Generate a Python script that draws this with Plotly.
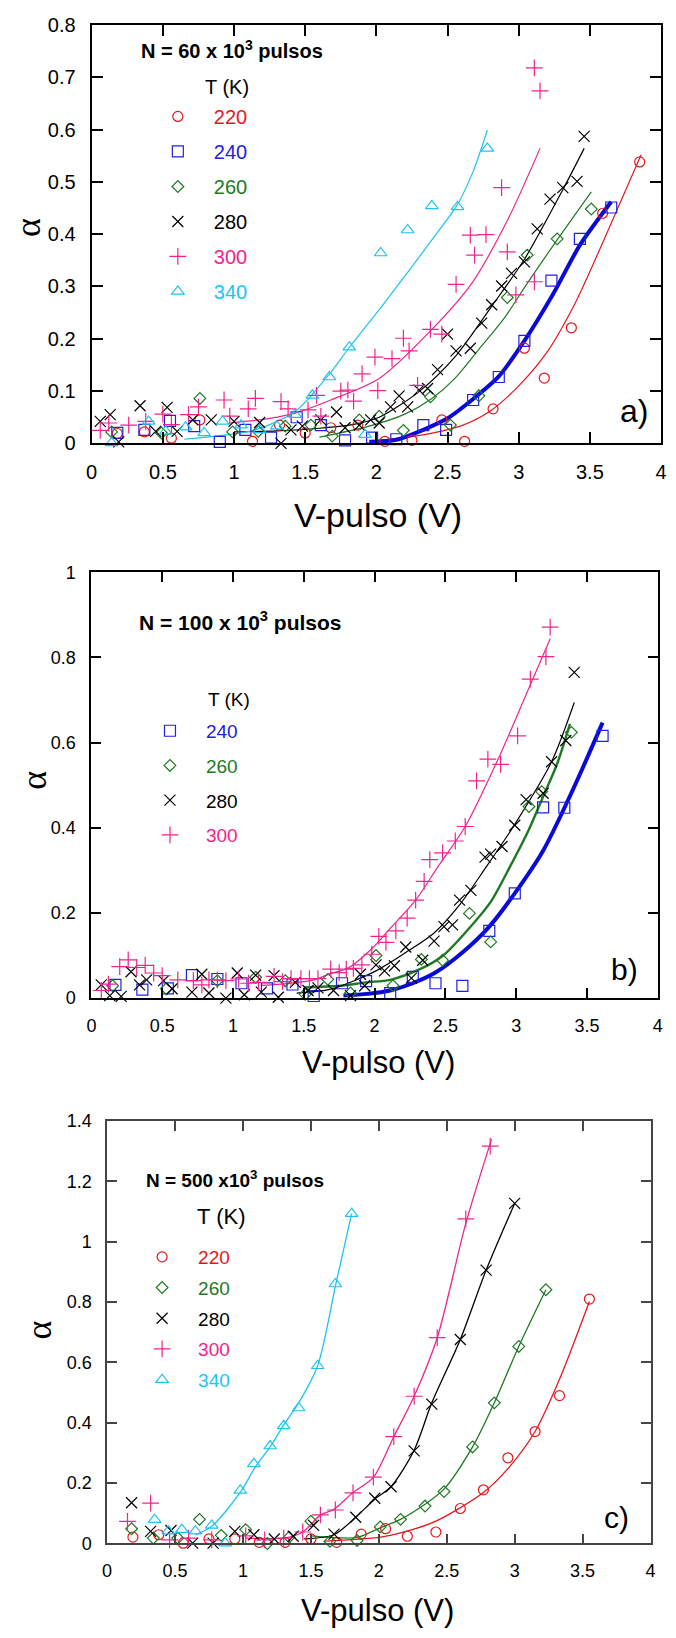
import plotly.graph_objects as go

# Page is 676x1638; the html body has an 8px margin, so the figure is 660x1622
PAGE_W, PAGE_H = 676, 1638
OFF = 8
W, H = PAGE_W - 2 * OFF, PAGE_H - 2 * OFF
FONT = "Liberation Sans, Arial, sans-serif"


def fx(px):
    return (px - OFF) / W


def fy(py):
    return 1 - (py - OFF) / H


# ---------------- Panel a) N = 60 x 10^3 ----------------
a220_x = [0.18, 0.37, 0.56, 0.76, 1.13, 1.32, 1.50, 1.68, 1.87, 2.06, 2.25, 2.46, 2.62, 2.82, 3.04, 3.18, 3.37, 3.59, 3.85]
a220_y = [0.019, 0.022, 0.010, 0.045, 0.004, 0.035, 0.020, 0.030, 0.035, 0.004, 0.006, 0.045, 0.004, 0.066, 0.182, 0.125, 0.221, 0.440, 0.538]
a220_fx = [1.98, 2.2, 2.4, 2.6, 2.8, 3.0, 3.2, 3.4, 3.6, 3.86]
a220_fy = [0.005, 0.011, 0.020, 0.034, 0.062, 0.110, 0.175, 0.270, 0.390, 0.552]

a240_x = [0.18, 0.37, 0.55, 0.72, 0.90, 1.08, 1.26, 1.44, 1.61, 1.78, 1.97, 2.14, 2.33, 2.49, 2.68, 2.86, 3.04, 3.23, 3.43, 3.65]
a240_y = [0.020, 0.026, 0.043, 0.033, 0.003, 0.026, 0.011, 0.050, 0.035, 0.006, 0.011, 0.008, 0.035, 0.026, 0.083, 0.127, 0.196, 0.311, 0.391, 0.451]
a240_fx = [1.95, 2.14, 2.33, 2.50, 2.68, 2.86, 3.04, 3.245, 3.43, 3.65]
a240_fy = [0.003, 0.007, 0.026, 0.048, 0.085, 0.128, 0.196, 0.287, 0.379, 0.462]

a260_x = [0.14, 0.49, 0.76, 0.99, 1.17, 1.36, 1.54, 1.69, 1.88, 2.02, 2.19, 2.38, 2.52, 2.72, 2.92, 3.06, 3.27, 3.51]
a260_y = [0.022, 0.020, 0.086, 0.022, 0.023, 0.033, 0.035, 0.014, 0.045, 0.052, 0.025, 0.089, 0.035, 0.091, 0.279, 0.360, 0.391, 0.448]
a260_fx = [1.60, 1.95, 2.2, 2.39, 2.55, 2.72, 2.9, 3.06, 3.27, 3.51]
a260_fy = [0.012, 0.033, 0.056, 0.086, 0.124, 0.180, 0.240, 0.306, 0.389, 0.481]

a280_x = [0.06, 0.13, 0.19, 0.34, 0.45, 0.53, 0.60, 0.71, 0.84, 1.00, 1.18, 1.33, 1.40, 1.48, 1.61, 1.72, 1.78, 1.88, 1.96, 2.02,
          2.10, 2.16, 2.22, 2.30, 2.36, 2.43, 2.50, 2.56, 2.66, 2.74, 2.81, 2.88, 2.95, 3.04, 3.13, 3.22, 3.31, 3.41, 3.46]
a280_y = [0.042, 0.055, 0.003, 0.072, 0.023, 0.069, 0.023, 0.045, 0.045, 0.042, 0.040, 0.000, 0.026, 0.033, 0.045, 0.060, 0.030, 0.035, 0.045, 0.039,
          0.070, 0.091, 0.070, 0.102, 0.105, 0.141, 0.209, 0.177, 0.182, 0.230, 0.265, 0.301, 0.325, 0.347, 0.410, 0.467, 0.489, 0.501, 0.587]
a280_fx = [1.0, 1.3, 1.6, 1.85, 2.02, 2.3, 2.56, 2.81, 3.04, 3.31, 3.46]
a280_fy = [0.022, 0.024, 0.029, 0.037, 0.050, 0.099, 0.168, 0.262, 0.352, 0.485, 0.564]

a300_x = [0.06, 0.12, 0.26, 0.38, 0.50, 0.56, 0.68, 0.75, 0.93, 0.97, 1.10, 1.15, 1.33, 1.38, 1.52, 1.58, 1.61, 1.75, 1.80, 1.84,
          1.90, 1.99, 2.01, 2.11, 2.19, 2.23, 2.29, 2.38, 2.46, 2.56, 2.66, 2.69, 2.77, 2.88, 2.92, 2.98, 3.11, 3.11, 3.15]
a300_y = [0.025, 0.039, 0.035, 0.042, 0.056, 0.036, 0.055, 0.070, 0.083, 0.052, 0.066, 0.086, 0.080, 0.066, 0.064, 0.092, 0.052, 0.100, 0.102, 0.081,
          0.133, 0.165, 0.101, 0.162, 0.201, 0.177, 0.111, 0.218, 0.209, 0.304, 0.398, 0.360, 0.399, 0.489, 0.366, 0.284, 0.309, 0.718, 0.674]
a300_fx = [0.97, 1.25, 1.43, 1.68, 2.02, 2.38, 2.67, 2.92, 3.15]
a300_fy = [0.039, 0.048, 0.058, 0.083, 0.124, 0.215, 0.306, 0.426, 0.564]

a340_x = [0.14, 0.40, 0.52, 0.66, 0.79, 0.92, 1.05, 1.18, 1.30, 1.43, 1.55, 1.67, 1.81, 1.92, 2.03, 2.22, 2.39, 2.57, 2.78]
a340_y = [0.001, 0.042, 0.023, 0.031, 0.020, 0.042, 0.035, 0.026, 0.033, 0.055, 0.092, 0.127, 0.184, 0.017, 0.364, 0.408, 0.454, 0.452, 0.564]
a340_fx = [0.65, 0.9, 1.15, 1.43, 1.68, 1.80, 2.03, 2.2, 2.39, 2.57, 2.68, 2.78]
a340_fy = [0.008, 0.015, 0.026, 0.061, 0.136, 0.180, 0.259, 0.320, 0.389, 0.457, 0.520, 0.599]

# ---------------- Panel b) N = 100 x 10^3 ----------------
b240_x = [0.17, 0.36, 0.54, 0.71, 0.89, 1.06, 1.24, 1.42, 1.57, 1.77, 1.94, 2.11, 2.27, 2.43, 2.62, 2.81, 2.99, 3.19, 3.34, 3.61]
b240_y = [0.031, 0.020, 0.023, 0.054, 0.045, 0.035, 0.023, 0.032, 0.005, 0.035, 0.040, 0.012, 0.050, 0.035, 0.029, 0.158, 0.246, 0.448, 0.447, 0.616]
b240_fx = [1.78, 1.95, 2.11, 2.27, 2.43, 2.62, 2.81, 2.99, 3.19, 3.40, 3.61]
b240_fy = [0.006, 0.010, 0.018, 0.035, 0.060, 0.107, 0.168, 0.246, 0.346, 0.489, 0.647]

b260_x = [0.15, 0.53, 0.89, 1.16, 1.37, 1.51, 1.67, 1.83, 2.01, 2.13, 2.33, 2.48, 2.67, 2.82, 3.09, 3.18, 3.39]
b260_y = [0.029, 0.022, 0.041, 0.049, 0.041, 0.009, 0.044, 0.012, 0.100, 0.029, 0.091, 0.089, 0.199, 0.132, 0.450, 0.485, 0.624]
b260_fx = [1.50, 1.76, 1.94, 2.11, 2.32, 2.48, 2.66, 2.82, 2.96, 3.09, 3.19, 3.29, 3.38]
b260_fy = [0.025, 0.029, 0.037, 0.043, 0.068, 0.099, 0.161, 0.226, 0.311, 0.396, 0.473, 0.551, 0.644]

b280_x = [0.07, 0.13, 0.21, 0.28, 0.34, 0.39, 0.51, 0.57, 0.71, 0.78, 0.83, 0.95, 1.03, 1.08, 1.16, 1.20, 1.29, 1.32, 1.44, 1.53,
          1.60, 1.71, 1.83, 1.90, 1.93, 2.01, 2.07, 2.14, 2.22, 2.26, 2.34, 2.42, 2.49, 2.55, 2.60, 2.68, 2.78, 2.82, 2.90, 2.99,
          3.07, 3.19, 3.25, 3.35, 3.41]
b280_y = [0.031, 0.006, 0.004, 0.062, 0.031, 0.043, 0.041, 0.022, 0.014, 0.056, 0.012, 0.000, 0.059, 0.008, 0.054, 0.014, 0.053, 0.002, 0.037, 0.018,
          0.024, 0.018, 0.006, 0.056, 0.029, 0.078, 0.064, 0.076, 0.120, 0.047, 0.089, 0.134, 0.168, 0.172, 0.230, 0.253, 0.331, 0.338, 0.356, 0.406,
          0.466, 0.481, 0.555, 0.605, 0.765]
b280_fx = [1.45, 1.69, 2.01, 2.22, 2.42, 2.60, 2.78, 2.99, 3.25, 3.41]
b280_fy = [0.012, 0.021, 0.064, 0.107, 0.153, 0.219, 0.304, 0.408, 0.555, 0.694]

b300_x = [0.07, 0.12, 0.20, 0.26, 0.32, 0.38, 0.44, 0.50, 0.61, 0.72, 0.78, 0.83, 0.89, 0.95, 1.04, 1.11, 1.18, 1.29, 1.35, 1.41,
          1.48, 1.54, 1.60, 1.69, 1.75, 1.80, 1.85, 1.91, 1.98, 2.03, 2.08, 2.15, 2.23, 2.29, 2.35, 2.39, 2.48, 2.57, 2.64, 2.72,
          2.80, 2.89, 3.01, 3.10, 3.21, 3.24]
b300_y = [0.018, 0.033, 0.074, 0.090, 0.072, 0.077, 0.059, 0.053, 0.043, 0.041, 0.031, 0.043, 0.043, 0.041, 0.045, 0.035, 0.037, 0.051, 0.039, 0.046,
          0.046, 0.046, 0.046, 0.068, 0.060, 0.068, 0.070, 0.078, 0.103, 0.145, 0.131, 0.158, 0.188, 0.230, 0.274, 0.325, 0.341, 0.369, 0.403, 0.510,
          0.561, 0.549, 0.616, 0.749, 0.802, 0.871]
b300_fx = [1.20, 1.34, 1.57, 1.69, 1.81, 1.98, 2.10, 2.29, 2.45, 2.64, 2.89, 3.10, 3.24]
b300_fy = [0.030, 0.033, 0.043, 0.058, 0.070, 0.116, 0.160, 0.230, 0.310, 0.403, 0.574, 0.736, 0.844]

# ---------------- Panel c) N = 500 x 10^3 ----------------
c220_x = [0.19, 0.38, 0.56, 0.75, 0.94, 1.12, 1.31, 1.50, 1.69, 1.87, 2.05, 2.21, 2.42, 2.60, 2.77, 2.95, 3.15, 3.33, 3.55]
c220_y = [0.021, 0.029, 0.001, 0.015, 0.015, 0.004, 0.004, 0.015, 0.004, 0.031, 0.049, 0.024, 0.038, 0.116, 0.178, 0.284, 0.371, 0.490, 0.810]
c220_fx = [1.60, 2.00, 2.20, 2.42, 2.77, 2.96, 3.15, 3.33, 3.55]
c220_fy = [0.008, 0.020, 0.040, 0.074, 0.169, 0.253, 0.371, 0.544, 0.802]

c260_x = [0.18, 0.34, 0.52, 0.68, 0.84, 1.02, 1.18, 1.34, 1.50, 1.64, 1.84, 2.01, 2.16, 2.34, 2.48, 2.69, 2.85, 3.03, 3.23]
c260_y = [0.049, 0.018, 0.018, 0.080, 0.027, 0.046, 0.000, 0.021, 0.074, 0.007, 0.010, 0.055, 0.080, 0.124, 0.172, 0.320, 0.466, 0.653, 0.841]
c260_fx = [1.50, 1.64, 1.84, 2.01, 2.16, 2.34, 2.48, 2.69, 2.85, 3.03, 3.23]
c260_fy = [0.025, 0.020, 0.020, 0.052, 0.080, 0.130, 0.180, 0.320, 0.466, 0.653, 0.841]

c280_x = [0.18, 0.32, 0.47, 0.63, 0.78, 0.94, 1.08, 1.23, 1.37, 1.52, 1.67, 1.83, 1.97, 2.09, 2.26, 2.39, 2.60, 2.79, 3.00]
c280_y = [0.135, 0.040, 0.043, 0.001, 0.001, 0.040, 0.029, 0.015, 0.024, 0.060, 0.031, 0.087, 0.150, 0.188, 0.307, 0.462, 0.676, 0.906, 1.127]
c280_fx = [1.45, 1.67, 1.83, 1.97, 2.09, 2.26, 2.39, 2.60, 2.79, 3.00]
c280_fy = [0.015, 0.029, 0.087, 0.147, 0.188, 0.309, 0.466, 0.676, 0.906, 1.127]

c300_x = [0.15, 0.32, 0.46, 0.60, 0.77, 1.02, 1.16, 1.30, 1.44, 1.57, 1.68, 1.81, 1.96, 2.11, 2.26, 2.43, 2.64, 2.82]
c300_y = [0.073, 0.134, 0.012, 0.018, 0.012, 0.025, 0.012, 0.018, 0.038, 0.095, 0.111, 0.168, 0.220, 0.354, 0.488, 0.682, 1.076, 1.317]
c300_fx = [1.02, 1.30, 1.44, 1.57, 1.67, 1.81, 1.96, 2.11, 2.26, 2.43, 2.64, 2.83]
c300_fy = [0.018, 0.018, 0.038, 0.094, 0.113, 0.169, 0.219, 0.354, 0.488, 0.682, 1.060, 1.340]

c340_x = [0.35, 0.45, 0.55, 0.65, 0.77, 0.87, 0.98, 1.08, 1.20, 1.30, 1.41, 1.55, 1.68, 1.80]
c340_y = [0.079, 0.041, 0.046, 0.041, 0.060, 0.001, 0.176, 0.264, 0.323, 0.390, 0.449, 0.589, 0.860, 1.093]
c340_fx = [0.65, 0.77, 0.98, 1.09, 1.20, 1.30, 1.41, 1.55, 1.684, 1.80]
c340_fy = [0.029, 0.057, 0.169, 0.253, 0.320, 0.393, 0.466, 0.589, 0.860, 1.093]

x_ticks = [0, 0.5, 1, 1.5, 2, 2.5, 3, 3.5, 4]
x_tick_text = ["0", "0.5", "1", "1.5", "2", "2.5", "3", "3.5", "4"]

COL = {"220": "#e8161c", "240": "#2020e6", "260": "#1d7a22", "280": "#000000", "300": "#f2238c", "340": "#1cc4f2"}
LINECOL = {"220": "#e8161c", "240": "#0a0ad8", "260": "#1d7a22", "280": "#000000", "300": "#f2238c", "340": "#1cc4f2"}
SYM = {"220": "circle-open", "240": "square-open", "260": "diamond-open", "280": "x-thin", "300": "cross-thin", "340": "triangle-up-open"}
MSIZE = {"220": 10, "240": 11, "260": 9, "280": 11, "300": 12, "340": 11}

panels = [
    dict(xa="x", ya="y", legend="legend", box=(87, 666, 15, 439), yr=0.8, dy=0.1,
         frame="#000000", fw=2, tl=11, tf=20,
         series=[("220", a220_x, a220_y, a220_fx, a220_fy, 1.2),
                 ("240", a240_x, a240_y, a240_fx, a240_fy, 4),
                 ("260", a260_x, a260_y, a260_fx, a260_fy, 1.2),
                 ("280", a280_x, a280_y, a280_fx, a280_fy, 1.2),
                 ("300", a300_x, a300_y, a300_fx, a300_fy, 1.2),
                 ("340", a340_x, a340_y, a340_fx, a340_fy, 1.2)]),
    dict(xa="x2", ya="y2", legend="legend2", box=(86.7, 662.7, 569.5, 1001), yr=1.0, dy=0.2,
         frame="#000000", fw=2, tl=10, tf=18,
         series=[("240", b240_x, b240_y, b240_fx, b240_fy, 4),
                 ("260", b260_x, b260_y, b260_fx, b260_fy, 2.4),
                 ("280", b280_x, b280_y, b280_fx, b280_fy, 1.2),
                 ("300", b300_x, b300_y, b300_fx, b300_fy, 1.2)]),
    dict(xa="x3", ya="y3", legend="legend3", box=(102.7, 655.3, 1125.5, 1553.5), yr=1.4, dy=0.2,
         frame="#444444", fw=1.5, tl=10, tf=18,
         series=[("220", c220_x, c220_y, c220_fx, c220_fy, 1.3),
                 ("260", c260_x, c260_y, c260_fx, c260_fy, 1.3),
                 ("280", c280_x, c280_y, c280_fx, c280_fy, 1.3),
                 ("300", c300_x, c300_y, c300_fx, c300_fy, 1.3),
                 ("340", c340_x, c340_y, c340_fx, c340_fy, 1.3)]),
]

fig = go.Figure()

for i, p in enumerate(panels):
    for (t, xs, ys, fxs, fys, lw) in p["series"]:
        fig.add_trace(go.Scatter(x=fxs, y=fys, mode="lines", xaxis=p["xa"], yaxis=p["ya"],
                                 line=dict(color=LINECOL[t], width=lw, shape="spline", smoothing=0.8),
                                 showlegend=False, hoverinfo="skip"))
    for (t, xs, ys, fxs, fys, lw) in p["series"]:
        fig.add_trace(go.Scatter(x=xs, y=ys, mode="markers", xaxis=p["xa"], yaxis=p["ya"],
                                 name=f"<span style='color:{COL[t]}'>{t}</span>",
                                 legend=p["legend"], legendgroup=f"p{i}_{t}",
                                 cliponaxis=False,
                                 marker=dict(symbol=SYM[t], size=MSIZE[t], color=COL[t],
                                             line=dict(color=COL[t], width=1.2))))

layout = dict(width=W, height=H, margin=dict(l=0, r=0, t=0, b=0),
              paper_bgcolor="white", plot_bgcolor="white", font=dict(family=FONT, color="black"))

for i, p in enumerate(panels):
    l, r, t, b = p["box"]
    sfx = "" if i == 0 else str(i + 1)
    yvals = [round(k * p["dy"], 2) for k in range(int(round(p["yr"] / p["dy"])) + 1)]
    layout["xaxis" + sfx] = dict(domain=[fx(l), fx(r)], range=[0, 4], anchor=p["ya"],
                                 tickvals=x_ticks, ticktext=x_tick_text, ticks="inside", ticklen=p["tl"],
                                 tickwidth=p["fw"], tickcolor=p["frame"], showline=True, linecolor=p["frame"],
                                 linewidth=p["fw"], mirror="ticks", showgrid=False, zeroline=False,
                                 tickfont=dict(size=p["tf"], family=FONT), ticklabelstandoff=10)
    layout["yaxis" + sfx] = dict(domain=[fy(b), fy(t)], range=[0, p["yr"]], anchor=p["xa"],
                                 tickvals=yvals, ticks="inside", ticklen=p["tl"],
                                 tickwidth=p["fw"], tickcolor=p["frame"], showline=True, linecolor=p["frame"],
                                 linewidth=p["fw"], mirror="ticks", showgrid=False, zeroline=False,
                                 tickfont=dict(size=p["tf"], family=FONT), ticklabelstandoff=10)

leg_common = dict(xanchor="left", yanchor="top", bgcolor="rgba(0,0,0,0)", borderwidth=0,
                  traceorder="grouped", itemclick=False, itemdoubleclick=False)
layout["legend"] = dict(x=fx(138), y=fy(88), font=dict(family=FONT, size=20), itemwidth=62,
                        tracegroupgap=6, **leg_common)
layout["legend2"] = dict(x=fx(130), y=fy(711), font=dict(family=FONT, size=19), itemwidth=62,
                         tracegroupgap=7, **leg_common)
layout["legend3"] = dict(x=fx(122), y=fy(1244), font=dict(family=FONT, size=19), itemwidth=62,
                         tracegroupgap=3, **leg_common)

ann = []


def add_text(text, px, py, size, xanchor="center", bold=False, angle=0, family=FONT):
    ann.append(dict(text=f"<b>{text}</b>" if bold else text, x=fx(px), y=fy(py), xref="paper", yref="paper",
                    xanchor=xanchor, yanchor="middle", showarrow=False, textangle=angle,
                    font=dict(size=size, family=family, color="black")))


# y-axis titles (alpha)
add_text("α", 23, 220, 36, angle=-90, family="Liberation Serif, serif")
add_text("α", 28, 780, 36, angle=-90, family="Liberation Serif, serif")
add_text("α", 33, 1337, 36, angle=-90, family="Liberation Serif, serif")
# x-axis titles
add_text("V-pulso (V)", 378, 512, 34)
add_text("V-pulso (V)", 378.5, 1066, 31)
add_text("V-pulso (V)", 378, 1621, 31)
# N labels
add_text("N = 60 x 10<sup>3</sup> pulsos", 135, 40, 20, xanchor="left", bold=True)
add_text("N = 100 x 10<sup>3</sup> pulsos", 133, 619, 21, xanchor="left", bold=True)
add_text("N = 500 x10<sup>3</sup> pulsos", 140, 1184, 19, xanchor="left", bold=True)
# legend headers
add_text("T (K)", 200, 78, 20, xanchor="left")
add_text("T (K)", 203, 698, 19, xanchor="left")
add_text("T (K)", 192, 1222, 22, xanchor="left")
# panel tags
add_text("a)", 638, 406, 32)
add_text("b)", 629, 972, 30)
add_text("c)", 621, 1527, 30)

layout["annotations"] = ann
fig.update_layout(**layout)
fig.write_html("out.html")
